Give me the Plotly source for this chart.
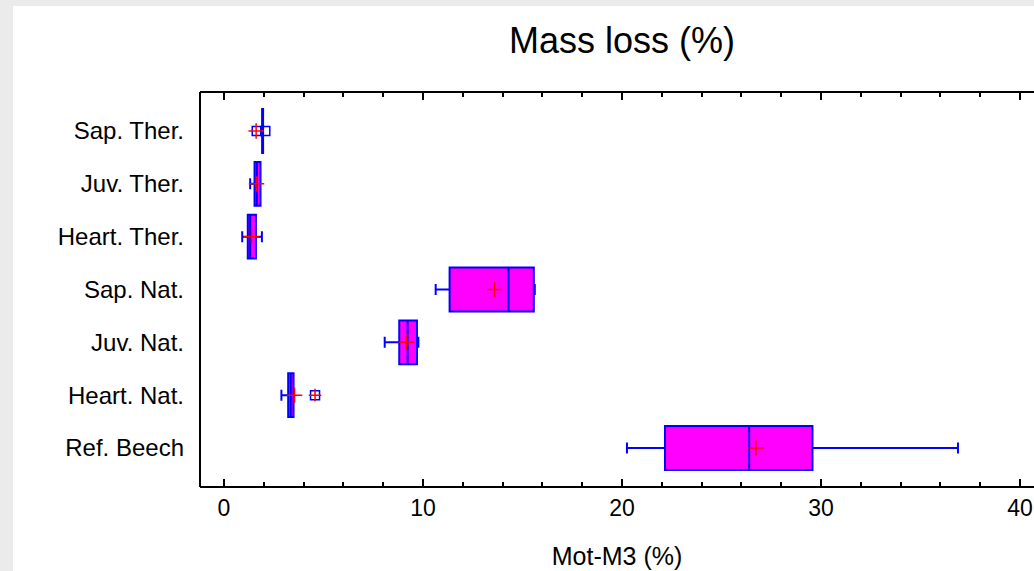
import plotly.graph_objects as go

categories = ["Sap. Ther.", "Juv. Ther.", "Heart. Ther.", "Sap. Nat.", "Juv. Nat.", "Heart. Nat.", "Ref. Beech"]
lower_whisker = [1.94, 1.32, 0.92, 10.64, 8.08, 2.89, 20.25]
q1 = [1.92, 1.54, 1.20, 11.34, 8.81, 3.23, 22.16]
median = [1.94, 1.66, 1.32, 14.30, 9.23, 3.36, 26.39]
q3 = [1.97, 1.84, 1.61, 15.57, 9.70, 3.50, 29.57]
upper_whisker = [1.97, 1.84, 1.91, 15.62, 9.77, 3.52, 36.88]
means = [1.62, 1.64, 1.39, 13.60, 9.17, 3.55, 26.73]
outlier_cats = ["Sap. Ther.", "Sap. Ther.", "Heart. Nat."]
outlier_vals = [1.65, 2.08, 4.58]
far_outlier_cats = ["Heart. Nat."]
far_outlier_vals = [4.58]

x_ticks = [0, 10, 20, 30, 40]

FONT = "Liberation Sans, Arial, sans-serif"
BLUE = "#0000ff"

# plot area geometry in pixels
L, T, B = 200, 93, 486
W, H = 1034, 571
PW, PH = W - L, B - T

fig = go.Figure()
fig.add_trace(go.Box(
    y=categories, q1=q1, median=median, q3=q3,
    lowerfence=lower_whisker, upperfence=upper_whisker,
    orientation="h", fillcolor="#ff00ff",
    line=dict(color=BLUE, width=2), width=0.83, whiskerwidth=0.25,
    boxpoints=False, hoverinfo="skip", showlegend=False,
))
fig.add_trace(go.Scatter(
    x=outlier_vals, y=outlier_cats, mode="markers",
    marker=dict(symbol="square-open", size=9, color=BLUE, line=dict(width=1.5, color=BLUE)),
    showlegend=False, hoverinfo="skip",
))
fig.add_trace(go.Scatter(
    x=far_outlier_vals, y=far_outlier_cats, mode="markers",
    marker=dict(symbol="cross-thin", size=9, color="red", line=dict(width=1.5, color="red")),
    showlegend=False, hoverinfo="skip",
))
fig.add_trace(go.Scatter(
    x=means, y=categories, mode="markers",
    marker=dict(symbol="cross-thin", size=11, color="red", line=dict(width=1.5, color="red")),
    showlegend=False, hoverinfo="skip",
))

fig.update_layout(
    width=W, height=H,
    margin=dict(l=L, r=0, t=T, b=H - B),
    paper_bgcolor="#ebebeb", plot_bgcolor="white",
    font=dict(family=FONT, size=23, color="black"),
    title=dict(text="Mass loss (%)", x=622 / W, xanchor="center", y=1 - 40 / H, yanchor="middle",
               font=dict(size=36, family=FONT, color="black")),
    xaxis=dict(
        range=[-1.2, 40.7], tickvals=x_ticks, ticks="inside", ticklen=7, tickwidth=2,
        tickcolor="black", showline=True, linecolor="black", linewidth=2, mirror="ticks",
        showgrid=False, zeroline=False,
        minor=dict(dtick=2, ticks="inside", ticklen=4, tickwidth=2, tickcolor="black", showgrid=False),
        title=dict(text="Mot-M3 (%)", standoff=28, font=dict(size=25)),
        tickfont=dict(size=23),
    ),
    yaxis=dict(
        categoryorder="array", categoryarray=categories[::-1],
        range=[-0.72, 6.72], showline=False,
        ticks="", showgrid=False, zeroline=False, ticklabelstandoff=15,
        tickfont=dict(size=24),
    ),
)

# white panel behind the chart
fig.add_shape(type="rect", xref="paper", yref="paper",
              x0=(13 - L) / PW, x1=1.05, y0=(B - H) / PH, y1=(B - 6) / PH,
              layer="below", line=dict(width=0), fillcolor="white")
# left frame line of the plot area
fig.add_shape(type="line", xref="paper", yref="paper",
              x0=0, x1=0, y0=-1 / PH, y1=1 + 1 / PH,
              layer="above", line=dict(width=2, color="black"))

fig.write_html("out.html")
